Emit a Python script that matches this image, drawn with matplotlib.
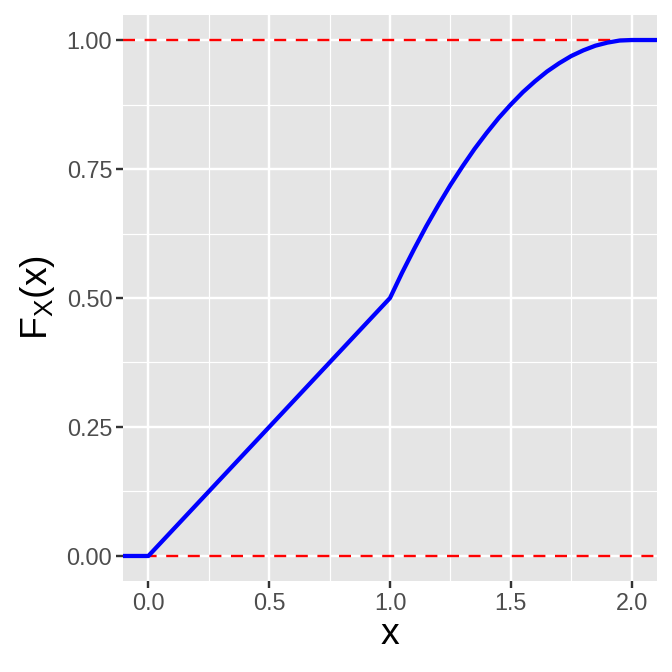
import numpy as np
import matplotlib.pyplot as plt

# CDF
x_vals = [-0.105, 0.0, 1.0, 1.05, 1.1, 1.15, 1.2, 1.25, 1.3, 1.35, 1.4, 1.45, 1.5,
          1.55, 1.6, 1.65, 1.7, 1.75, 1.8, 1.85, 1.9, 1.95, 2.0, 2.105]
F_vals = [0.0, 0.0, 0.5, 0.549, 0.595, 0.639, 0.68, 0.719, 0.755, 0.789, 0.82, 0.849, 0.875,
          0.899, 0.92, 0.939, 0.955, 0.969, 0.98, 0.989, 0.995, 0.999, 1.0, 1.0]
ref_levels = [0.0, 1.0]

x_ticks = [0.0, 0.5, 1.0, 1.5, 2.0]
x_minor = [0.25, 0.75, 1.25, 1.75]
y_ticks = [0.0, 0.25, 0.5, 0.75, 1.0]
y_minor = [0.125, 0.375, 0.625, 0.875]

plt.rcParams['font.family'] = ['Liberation Sans', 'DejaVu Sans']

fig = plt.figure(figsize=(7, 7), dpi=96)
ax = fig.add_axes([123 / 672, 91 / 672, 534 / 672, 566 / 672])
ax.set_facecolor('#E5E5E5')
for s in ax.spines.values():
    s.set_visible(False)

ax.set_xlim(-0.105, 2.105)
ax.set_ylim(-0.0485, 1.0485)
ax.set_xticks(x_ticks)
ax.set_xticklabels(['0.0', '0.5', '1.0', '1.5', '2.0'])
ax.set_yticks(y_ticks)
ax.set_yticklabels(['0.00', '0.25', '0.50', '0.75', '1.00'])
ax.set_xticks(x_minor, minor=True)
ax.set_yticks(y_minor, minor=True)

ax.grid(which='major', color='white', linewidth=1.8)
ax.grid(which='minor', color='white', linewidth=0.9)
ax.set_axisbelow(True)
ax.tick_params(which='major', length=5, width=1.8, color='#333333',
               labelsize=17.5, labelcolor='#4D4D4D', pad=3)
ax.tick_params(which='minor', length=0)

for lvl in ref_levels:
    ax.axhline(lvl, color='red', linestyle=(0, (5, 4)), linewidth=1.8, zorder=2)

ax.plot(x_vals, F_vals, color='blue', linewidth=3.2, zorder=3)

ax.set_xlabel('x', fontsize=28, labelpad=2)
ax.set_ylabel(r'F$_\mathregular{X}$(x)', fontsize=28, labelpad=7)

fig.savefig('out.png', dpi=96)
